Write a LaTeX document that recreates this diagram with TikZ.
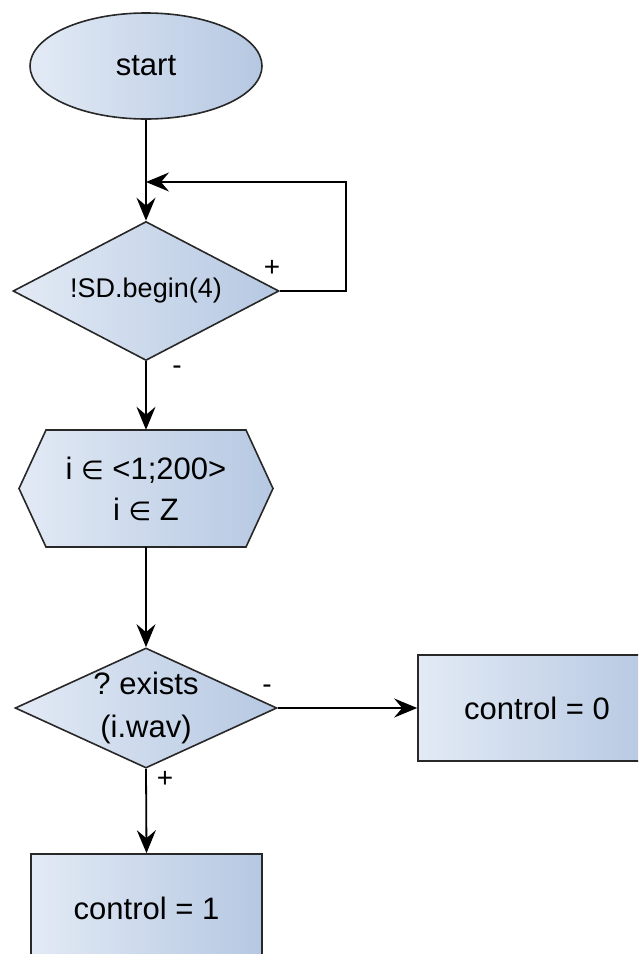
\documentclass[tikz,border=0pt]{standalone}
\usepackage{fontspec}
\setmainfont{Liberation Sans}
\newfontfamily\djv{DejaVu Sans}
\usetikzlibrary{shapes.geometric,arrows.meta}
\definecolor{gl}{RGB}{226,234,245}
\definecolor{gr}{RGB}{182,200,226}
\definecolor{bd}{RGB}{40,40,40}
\newcommand{\elem}{{\djv\fontsize{26}{30}\selectfont ∈}}
\tikzset{
  box/.style={draw=bd, line width=1.6pt, left color=gl, right color=gr, inner sep=0pt,
    align=center, font=\fontsize{31}{41}\selectfont},
  txt/.style={inner sep=0pt, align=center, font=\fontsize{31}{41}\selectfont},
  arr/.style={line width=1.8pt, -{Stealth[length=23pt,width=19pt,inset=8pt]}},
  lbl/.style={inner sep=0pt, font=\fontsize{28}{28}\selectfont},
}
\begin{document}
\frenchspacing
\begin{tikzpicture}[x=1pt,y=-1pt]
\useasboundingbox (0,0) rectangle (638,954);
\clip (0,0) rectangle (638,954);
% start
\node[box, ellipse, minimum width=232pt, minimum height=106pt] (start) at (146,66) {start};
% decision 1
\node[box, diamond, aspect=1.91, minimum width=266pt, minimum height=139pt,
  font=\fontsize{27}{32}\selectfont] (d1) at (146,291) {!SD.begin(4)};
% hexagon
\shadedraw[left color=gl, right color=gr, draw=bd, line width=1.6pt]
  (46,430) -- (246,430) -- (273,488.5) -- (246,547) -- (46,547) -- (19,488.5) -- cycle;
\node[txt, minimum width=254pt, minimum height=117pt] (hex) at (146,488.5)
  {i \elem{} <1;200>\\i \elem{} Z};
% decision 2
\node[box, diamond, aspect=2.18, minimum width=253pt, minimum height=116pt,
  font=\fontsize{31}{43}\selectfont] (d2) at (146,708) {? exists\\(i.wav)};
% results
\node[box, rectangle, minimum width=238pt, minimum height=106pt] (c0) at (537,708) {control = 0};
\node[box, rectangle, minimum width=231pt, minimum height=108pt] (c1) at (146.5,908) {control = 1};
% connectors
\coordinate (lp) at (346,182);
\draw[arr] (start.south) -- (d1.north);
\draw[arr] (d1.east) -| (lp) -- (lp -| d1.north);
\draw[arr] (d1.south) -- (hex.north);
\draw[arr] (hex.south) -- (d2.north);
\draw[arr] (d2.east) -- (c0.west);
\draw[arr] (d2.south) -- (c1.north);
% labels
\node[lbl] (p1) at (272,268) {+};
\node[lbl] (m1) at (177,370) {-};
\node[lbl] (m2) at (267,689) {-};
\node[lbl] (p2) at (165,779) {+};
\end{tikzpicture}
\end{document}
